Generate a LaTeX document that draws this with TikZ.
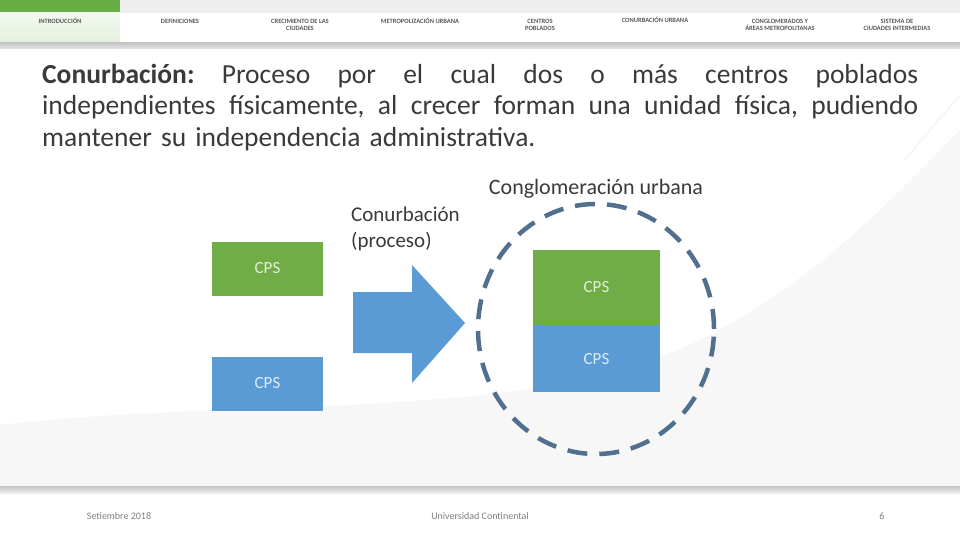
\documentclass[tikz,border=0pt]{standalone}
\usepackage{fontspec}
\setmainfont{Carlito}
\usetikzlibrary{positioning,shapes.geometric}
\definecolor{cpgreen}{HTML}{70AD47}
\definecolor{cpblue}{HTML}{5B9BD5}
\definecolor{ringblue}{HTML}{51708F}
\definecolor{tabgreen}{HTML}{67AE45}
\definecolor{tabtext}{HTML}{595959}
\definecolor{bodytext}{HTML}{3A3A3A}
\newcommand{\fullline}[1]{\makebox[876pt][s]{\frenchspacing\spaceskip=\fontdimen2\font plus 1em minus 0.1em\relax #1}}

\tikzset{
  cps/.style={fill=#1, text=white!80!#1, minimum width=111pt, minimum height=54pt,
    inner sep=0pt, font=\fontsize{17}{17}\selectfont},
  tablbl/.style={text=tabtext, font=\bfseries\fontsize{6.5}{7.5}\selectfont, align=center},
  lbl/.style={text=bodytext, font=\fontsize{21}{26}\selectfont, inner sep=0pt},
  foot/.style={text=gray, font=\fontsize{10}{10}\selectfont},
}

\begin{document}
\begin{tikzpicture}[x=1pt,y=-1pt]
        \useasboundingbox (0,0) rectangle (960,540);
        % background
        \fill[white] (0,0) rectangle (960,540);
        \fill[gray!6] (0,487) -- (0,425) .. controls (260,395) and (520,425) .. (700,340)
            .. controls (820,280) and (900,190) .. (960,130) -- (960,487) -- cycle;
        \draw[gray!8, line width=1.5pt] (905,160) .. controls (930,130) .. (960,95);
        % header
        \fill[gray!13] (0,0) rectangle (960,13);
        \fill[tabgreen] (0,0) rectangle (120,13);
        \shade[top color=tabgreen!8, bottom color=tabgreen!18] (0,13) rectangle (120,43);
        \shade[top color=gray!45, bottom color=gray!20] (0,43) rectangle (960,49);
        \node[tablbl] (tabA) at (60,21) {INTRODUCCIÓN};
        \node[tablbl] (tabB) at (180,21) {DEFINICIONES};
        \node[tablbl] (tabC) at (300,25) {CRECIMIENTO DE LAS\\CIUDADES};
        \node[tablbl] (tabD) at (420,21) {METROPOLIZACIÓN URBANA};
        \node[tablbl] (tabE) at (540,25) {CENTROS\\POBLADOS};
        \node[tablbl] (tabF) at (655,20) {CONURBACIÓN URBANA};
        \node[tablbl] (tabG) at (780,25) {CONGLOMERADOS Y\\ÁREAS METROPOLITANAS};
        \node[tablbl] (tabH) at (897,25) {SISTEMA DE\\CIUDADES INTERMEDIAS};
        % definition
        \node[anchor=north west, inner sep=0pt, text width=876pt, text=bodytext,
            font=\fontsize{27.5}{31.5}\selectfont] (def) at (42,64) {%
            \fullline{\textbf{Conurbación:} Proceso por el cual dos o más centros poblados}\\
            \fullline{independientes físicamente, al crecer forman una unidad física, pudiendo}\\
            mantener su independencia administrativa.};
        % centros poblados
        \node[cps=cpgreen] (cpa) at (267.5,268.5) {CPS};
        \node[cps=cpblue] (cpb) at (267.5,383.5) {CPS};
        % proceso
        \fill[cpblue] (353,292) -- (412,292) -- (412,265) -- (465,323) -- (412,383)
            -- (412,353) -- (353,353) -- cycle;
        \node[lbl, anchor=north west, align=left] (proc) at (351,207) {Conurbación\\(proceso)};
        % conglomeracion
        \node[draw=ringblue, ellipse, line width=4.5pt, dash pattern=on 20pt off 12pt,
            minimum width=236pt, minimum height=250pt] (conglo) at (596,329) {};
        \node[cps=cpgreen, minimum width=127pt, minimum height=75pt] (cpc) at (596.5,287.5) {CPS};
        \node[cps=cpblue, minimum width=127pt, minimum height=67pt, below=0pt of cpc] (cpd) {CPS};
        \node[lbl, font=\fontsize{22}{26}\selectfont, above=3pt of conglo] (conglolbl) {Conglomeración urbana};
        % footer
        \shade[top color=gray!45, bottom color=gray!15] (0,486) rectangle (960,493);
        \node[foot] (fdate) at (119,516) {Setiembre 2018};
        \node[foot] (funi) at (480,516) {Universidad Continental};
        \node[foot] (fpage) at (882,516) {6};
    \end{tikzpicture}
\end{document}
